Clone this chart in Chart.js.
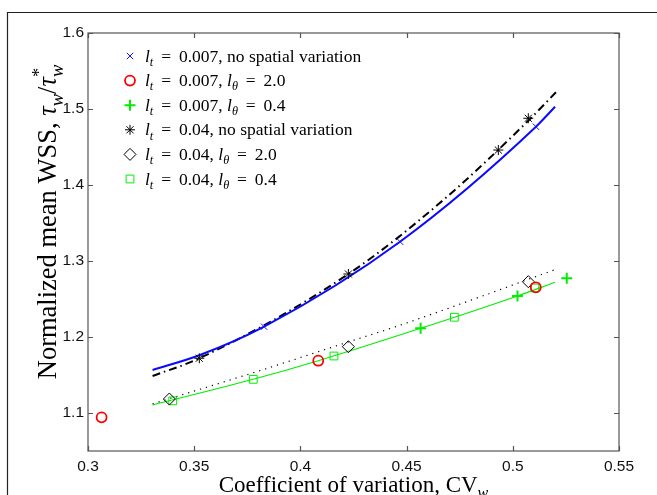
<!DOCTYPE html>
<html>
<head>
<meta charset="utf-8">
<script src="https://cdn.jsdelivr.net/npm/chart.js@4.4.0/dist/chart.umd.min.js"></script>
<style>
  html, body { margin: 0; padding: 0; background: #fff; }
</style>
</head>
<body>
<canvas id="chart" width="657" height="495"></canvas>
<script>
// Axis ticks
const xTicks = [0.3, 0.35, 0.4, 0.45, 0.5, 0.55];
const xTickLabels = ['0.3', '0.35', '0.4', '0.45', '0.5', '0.55'];
const yTicks = [1.1, 1.2, 1.3, 1.4, 1.5, 1.6];
const yTickLabels = ['1.1', '1.2', '1.3', '1.4', '1.5', '1.6'];

// Legend text ({..} italic, _x subscript, ^x superscript)
const legendLabels = [
    '{l}_t = 0.007, no spatial variation',
    '{l}_t = 0.007, {l}_θ = 2.0',
    '{l}_t = 0.007, {l}_θ = 0.4',
    '{l}_t = 0.04, no spatial variation',
    '{l}_t = 0.04, {l}_θ = 2.0',
    '{l}_t = 0.04, {l}_θ = 0.4'
];
const xTitle = 'Coefficient of variation, CV_w';
const yTitle = 'Normalized mean WSS, {τ}_w/{τ}^*_w';

// Simulation points
const lt007NoVarX = [0.3829, 0.4469, 0.5109];
const lt007NoVarY = [1.2136, 1.3254, 1.4767];
const lt007Th2X = [0.3064, 0.4084, 0.5108];
const lt007Th2Y = [1.0943, 1.1688, 1.2654];
const lt007Th04X = [0.4566, 0.5022, 0.5254];
const lt007Th04Y = [1.2114, 1.2540, 1.2772];
const lt04NoVarX = [0.3524, 0.4226, 0.4932, 0.5073];
const lt04NoVarY = [1.1720, 1.2829, 1.4460, 1.4878];
const lt04Th2X = [0.3383, 0.4226, 0.5073];
const lt04Th2Y = [1.1184, 1.1872, 1.2728];
const lt04Th04X = [0.3399, 0.3778, 0.4158, 0.4725, 0.5104];
const lt04Th04Y = [1.1160, 1.1443, 1.1750, 1.2260, 1.2645];

// Fitted curves
const fitBlueX = [0.3304, 0.3524, 0.3829, 0.4469, 0.5109, 0.5199];
const fitBlueY = [1.1566, 1.1760, 1.2136, 1.3254, 1.4767, 1.5030];
const fitDashDotX = [0.3304, 0.3524, 0.4226, 0.4673, 0.5073, 0.5203];
const fitDashDotY = [1.1487, 1.1720, 1.2829, 1.3803, 1.4846, 1.5220];
const fitDottedX = [0.3304, 0.3778, 0.4226, 0.4469, 0.5203];
const fitDottedY = [1.1120, 1.1530, 1.1935, 1.2155, 1.2890];
const fitGreenX = [0.3304, 0.3778, 0.4084, 0.4566, 0.5022, 0.5199];
const fitGreenY = [1.1105, 1.1443, 1.1688, 1.2114, 1.2540, 1.2720];

const pts = (xs, ys) => xs.map((x, i) => ({ x: x, y: ys[i] }));

// Marker styles, shared by the plot and the hand-drawn legend
const markerStyles = [
    { pointStyle: 'crossRot', radius: 4.5, color: '#1515ff', width: 1 },
    { pointStyle: 'circle', radius: 5, color: '#ff0000', width: 1.8 },
    { pointStyle: 'cross', radius: 5.5, color: '#00ee00', width: 2 },
    { pointStyle: 'star', radius: 5, color: '#000000', width: 1 },
    { pointStyle: 'rectRot', radius: 6, color: '#000000', width: 1 },
    { pointStyle: 'rect', radius: 5.5, color: '#00ee00', width: 1 }
];
const markerData = [
    pts(lt007NoVarX, lt007NoVarY),
    pts(lt007Th2X, lt007Th2Y),
    pts(lt007Th04X, lt007Th04Y),
    pts(lt04NoVarX, lt04NoVarY),
    pts(lt04Th2X, lt04Th2Y),
    pts(lt04Th04X, lt04Th04Y)
];

const markerSets = markerData.map((d, i) => ({
    label: legendLabels[i],
    data: d,
    showLine: false,
    pointStyle: markerStyles[i].pointStyle,
    pointRadius: markerStyles[i].radius,
    pointBorderColor: markerStyles[i].color,
    pointBackgroundColor: 'rgba(0,0,0,0)',
    pointBorderWidth: markerStyles[i].width
}));

const lineSet = (xs, ys, color, width, dash) => ({
    label: 'fit',
    data: pts(xs, ys),
    showLine: true,
    borderColor: color,
    borderWidth: width,
    borderDash: dash,
    pointRadius: 0,
    cubicInterpolationMode: 'monotone',
    fill: false
});

const lineSets = [
    lineSet(fitBlueX, fitBlueY, '#0a0aff', 2, []),
    lineSet(fitDashDotX, fitDashDotY, '#000000', 2, [8, 4, 1.5, 4]),
    lineSet(fitDottedX, fitDottedY, '#000000', 1.2, [1.2, 5]),
    lineSet(fitGreenX, fitGreenY, '#00ee00', 1.1, [])
];

// Draw text with simple math markup
function parseRich(str) {
    const segs = [];
    let i = 0, buf = '';
    const flush = () => { if (buf) { segs.push({ text: buf, italic: false, pos: 0 }); buf = ''; } };
    while (i < str.length) {
        const c = str[i];
        if (c === '{') {
            flush();
            const j = str.indexOf('}', i);
            segs.push({ text: str.slice(i + 1, j), italic: true, pos: 0 });
            i = j + 1;
        } else if (c === '_' || c === '^') {
            flush();
            segs.push({ text: str[i + 1], italic: c === '_' && /[a-zθ]/.test(str[i + 1]), pos: c === '_' ? 1 : -1 });
            i += 2;
        } else if (c === '=') {
            // math spacing around the equals sign
            buf += '\u2009=\u2009';
            i++;
        } else {
            buf += c;
            i++;
        }
    }
    flush();
    return segs;
}

function richLayout(ctx, str, size, family) {
    const segs = parseRich(str);
    let x = 0, prevSup = null;
    segs.forEach(s => {
        const sz = s.pos ? size * 0.7 : size;
        s.font = (s.italic ? 'italic ' : '') + sz + 'px ' + family;
        ctx.font = s.font;
        s.w = ctx.measureText(s.text).width;
        if (s.pos === 1 && prevSup) {
            s.x = prevSup.x;
            x = Math.max(x, s.x + s.w);
            prevSup = null;
        } else {
            s.x = x;
            x += s.w;
            prevSup = s.pos === -1 ? s : null;
        }
        s.dy = s.pos === 1 ? size * 0.25 : (s.pos === -1 ? -size * 0.42 : 0);
    });
    return { segs: segs, width: x };
}

function drawRich(ctx, str, x, y, size, family, align) {
    const lay = richLayout(ctx, str, size, family);
    const x0 = align === 'center' ? x - lay.width / 2 : x;
    ctx.textAlign = 'left';
    ctx.textBaseline = 'alphabetic';
    lay.segs.forEach(s => {
        ctx.font = s.font;
        ctx.fillText(s.text, x0 + s.x, y + s.dy);
    });
}

const serif = '"Liberation Serif", "DejaVu Serif", serif';

const decorations = {
    id: 'decorations',
    afterDraw(chart) {
        const ctx = chart.ctx;
        const a = chart.chartArea;
        const xs = chart.scales.x, ys = chart.scales.y;
        ctx.save();

        // figure frame
        ctx.strokeStyle = '#222';
        ctx.lineWidth = 1.2;
        ctx.beginPath();
        ctx.moveTo(7.5, 495);
        ctx.lineTo(7.5, 12.5);
        ctx.lineTo(657, 12.5);
        ctx.stroke();

        // axes box
        ctx.strokeStyle = '#555';
        ctx.lineWidth = 1.2;
        ctx.strokeRect(a.left, a.top, a.right - a.left, a.bottom - a.top);

        // inward ticks on all four sides
        ctx.beginPath();
        xTicks.forEach(v => {
            const px = Math.round(xs.getPixelForValue(v)) + 0.5;
            ctx.moveTo(px, a.bottom); ctx.lineTo(px, a.bottom - 5);
            ctx.moveTo(px, a.top); ctx.lineTo(px, a.top + 5);
        });
        yTicks.forEach(v => {
            const py = Math.round(ys.getPixelForValue(v)) + 0.5;
            ctx.moveTo(a.left, py); ctx.lineTo(a.left + 5, py);
            ctx.moveTo(a.right, py); ctx.lineTo(a.right - 5, py);
        });
        ctx.stroke();

        // legend
        legendLabels.forEach((lab, i) => {
            const ly = 56 + i * 24.6;
            const m = markerStyles[i];
            ctx.strokeStyle = m.color;
            ctx.fillStyle = 'rgba(0,0,0,0)';
            ctx.lineWidth = m.width;
            Chart.helpers.drawPoint(ctx, { pointStyle: m.pointStyle, radius: m.radius, rotation: 0, borderWidth: m.width }, 130, ly);
            ctx.fillStyle = '#000';
            drawRich(ctx, lab, 145, ly + 5.5, 17.5, serif, 'left');
        });

        // axis titles
        ctx.fillStyle = '#000';
        drawRich(ctx, xTitle, (a.left + a.right) / 2, 492, 23, serif, 'center');
        ctx.translate(56, 222);
        ctx.rotate(-Math.PI / 2);
        drawRich(ctx, yTitle, 0, 0, 26.5, serif, 'center');
        ctx.restore();
    }
};

const tickFont = { family: '"Liberation Sans", Arial, sans-serif', size: 15.5 };

new Chart(document.getElementById('chart'), {
    type: 'scatter',
    data: { datasets: markerSets.concat(lineSets) },
    options: {
        responsive: false,
        animation: false,
        layout: { padding: { left: 0, top: 33, right: 38, bottom: 0 } },
        scales: {
            x: {
                type: 'linear',
                min: 0.3,
                max: 0.55,
                afterBuildTicks: s => { s.ticks = xTicks.map(v => ({ value: v })); },
                afterFit: s => { s.height = 44; },
                grid: { display: false, drawTicks: false },
                border: { display: false },
                ticks: {
                    color: '#111',
                    font: tickFont,
                    padding: 6,
                    maxRotation: 0,
                    callback: (v, i) => xTickLabels[i]
                }
            },
            y: {
                type: 'linear',
                min: 1.05,
                max: 1.6,
                afterBuildTicks: s => { s.ticks = yTicks.map(v => ({ value: v })); },
                afterFit: s => { s.width = 88; },
                grid: { display: false, drawTicks: false },
                border: { display: false },
                ticks: {
                    color: '#111',
                    font: tickFont,
                    padding: 4,
                    callback: (v, i) => yTickLabels[i]
                }
            }
        },
        plugins: {
            legend: { display: false },
            tooltip: { enabled: false }
        }
    },
    plugins: [decorations]
});
</script>
</body>
</html>
